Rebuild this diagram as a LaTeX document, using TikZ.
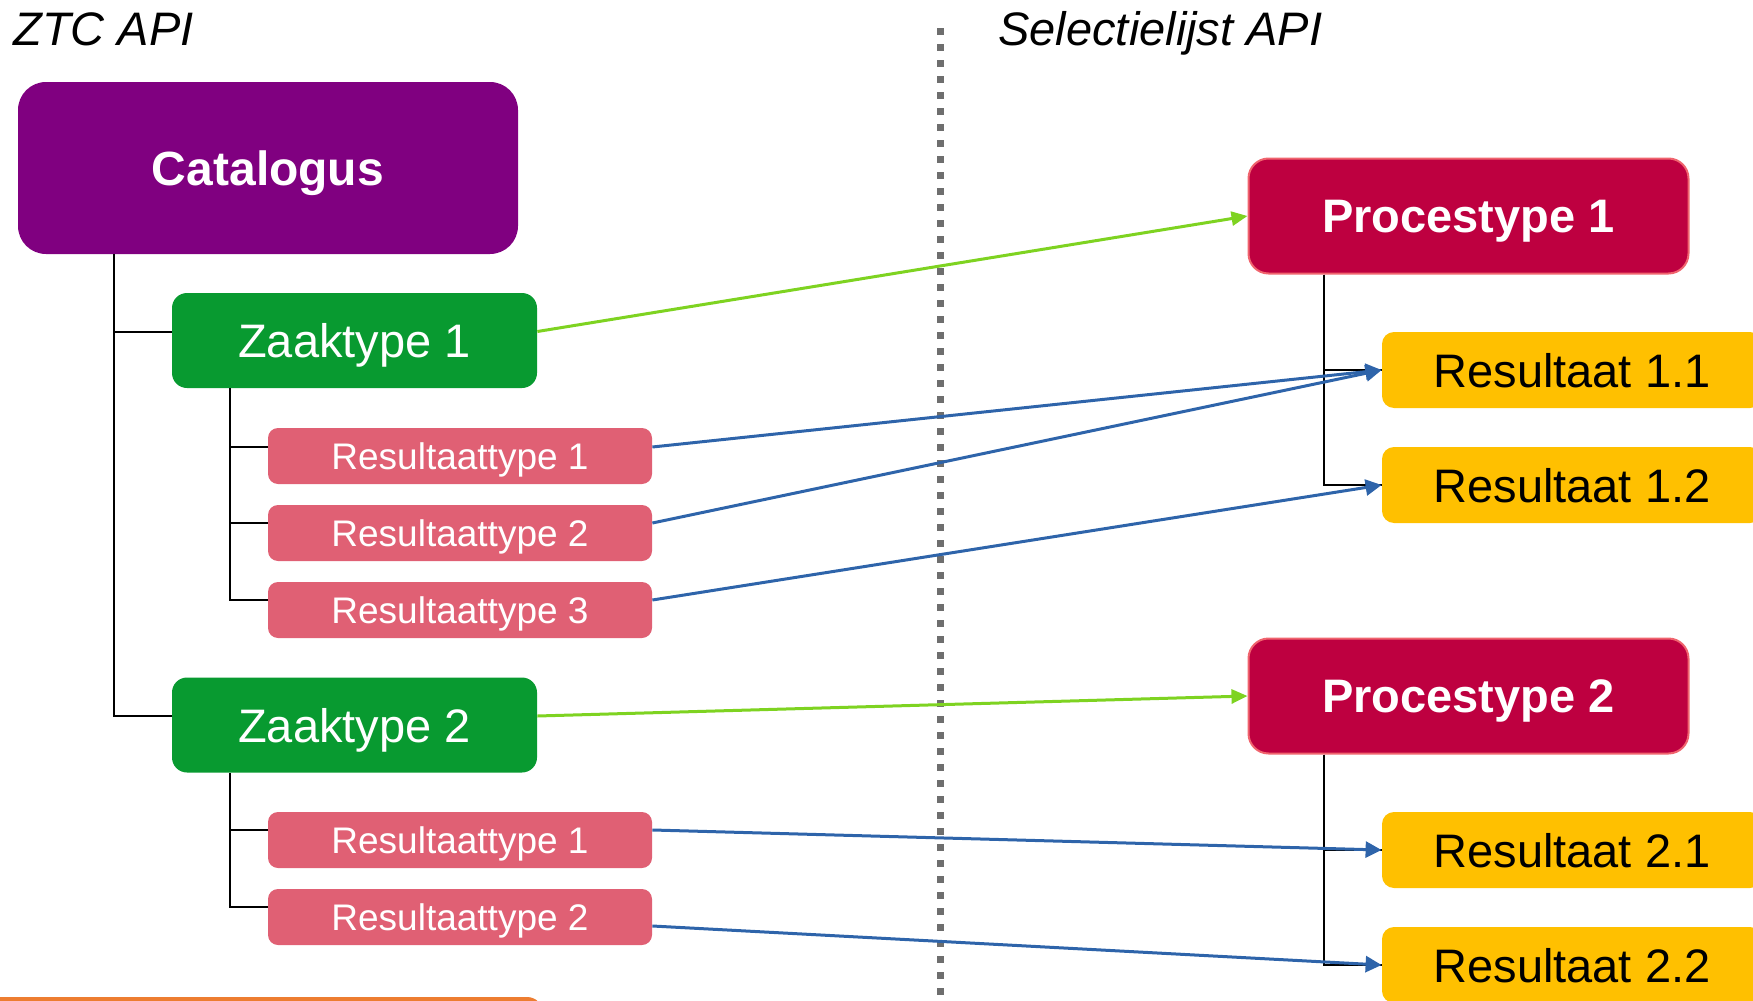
\documentclass[tikz,border=0pt]{standalone}
\usepackage{fontspec}
\setmainfont{Liberation Sans}
\usetikzlibrary{arrows.meta}
\definecolor{catpurple}{RGB}{128,0,128}
\definecolor{zaakgreen}{RGB}{8,154,48}
\definecolor{rtpink}{RGB}{224,96,116}
\definecolor{procred}{RGB}{190,0,64}
\definecolor{procborder}{RGB}{240,100,110}
\definecolor{resgold}{RGB}{255,192,0}
\definecolor{arrowgreen}{RGB}{126,211,33}
\definecolor{arrowblue}{RGB}{46,100,170}
\definecolor{sepgray}{RGB}{110,110,110}
\definecolor{orangebar}{RGB}{237,125,49}
\begin{document}
\begin{tikzpicture}[x=0.5pt,y=-0.5pt,
    box/.style={rectangle,inner sep=0pt,text depth=0pt,text=white,font=\fontsize{23.5}{28}\selectfont},
    catbox/.style={box,fill=catpurple,rounded corners=14pt,minimum width=250pt,minimum height=86pt,font=\fontsize{24}{28}\selectfont\bfseries},
    zaakbox/.style={box,fill=zaakgreen,rounded corners=7.5pt,minimum width=182.5pt,minimum height=47.5pt},
    rtbox/.style={box,fill=rtpink,rounded corners=5pt,minimum width=192pt,minimum height=28pt,font=\fontsize{18.5}{22}\selectfont},
    procbox/.style={box,fill=procred,draw=procborder,line width=1pt,rounded corners=10pt,minimum width=220pt,minimum height=57.5pt,font=\fontsize{23.5}{28}\selectfont\bfseries},
    resbox/.style={box,fill=resgold,text=black,rounded corners=6pt,minimum width=190pt,minimum height=38pt},
    title/.style={anchor=base west,inner sep=0pt,font=\fontsize{23.5}{28}\selectfont\itshape},
    tree/.style={black,line width=1pt},
    zaaklink/.style={arrowgreen,line width=1.5pt,-{Triangle[length=8pt,width=7pt]}},
    reslink/.style={arrowblue,line width=1.5pt,-{Triangle[length=8pt,width=8pt]}}]
    \useasboundingbox (0,0) rectangle (1753,1001);
    \clip (0,0) rectangle (1753,1001);
    \fill[orangebar,rounded corners=8pt] (-20,997) rectangle (543,1060);
    \draw[sepgray,line width=3.5pt,dash pattern=on 3.5pt off 4.5pt] (940,28) -- (940,1001);
    \path node (ztc) at(13,46) [title] {ZTC API}
          node (sel) at(998,46) [title] {Selectielijst API}
          node (cat) at(268,168) [catbox] {Catalogus}
          node (zt1) at(354.5,340.5) [zaakbox] {Zaaktype 1}
          node (rt11) at(460,456) [rtbox] {Resultaattype 1}
          node (rt12) at(460,533) [rtbox] {Resultaattype 2}
          node (rt13) at(460,610) [rtbox] {Resultaattype 3}
          node (zt2) at(354.5,725) [zaakbox] {Zaaktype 2}
          node (rt21) at(460,840) [rtbox] {Resultaattype 1}
          node (rt22) at(460,917) [rtbox] {Resultaattype 2}
          node (pt1) at(1468.5,216) [procbox] {Procestype 1}
          node (r11) at(1572,370) [resbox] {Resultaat 1.1}
          node (r12) at(1572,485) [resbox] {Resultaat 1.2}
          node (pt2) at(1468.5,696) [procbox] {Procestype 2}
          node (r21) at(1572,850) [resbox] {Resultaat 2.1}
          node (r22) at(1572,965) [resbox] {Resultaat 2.2};
    \draw[tree] (cat.south west) ++(96,0) |- ([yshift=4.5pt]zt1.west);
    \draw[tree] (cat.south west) ++(96,0) |- ([yshift=4.5pt]zt2.west);
    \draw[tree] (zt1.south west) ++(58,0) |- ([yshift=4.5pt]rt11.west);
    \draw[tree] (zt1.south west) ++(58,0) |- ([yshift=5pt]rt12.west);
    \draw[tree] (zt1.south west) ++(58,0) |- ([yshift=5pt]rt13.west);
    \draw[tree] (zt2.south west) ++(58,0) |- ([yshift=5pt]rt21.west);
    \draw[tree] (zt2.south west) ++(58,0) |- ([yshift=5pt]rt22.west);
    \draw[tree] (pt1.south west) ++(76,0) |- (r11.west);
    \draw[tree] (pt1.south west) ++(76,0) |- (r12.west);
    \draw[tree] (pt2.south west) ++(76,0) |- (r21.west);
    \draw[tree] (pt2.south west) ++(76,0) |- (r22.west);
    \draw[zaaklink] ([yshift=4.5pt]zt1.east) -- (pt1.west);
    \draw[zaaklink] ([yshift=4.5pt]zt2.east) -- (pt2.west);
    \draw[reslink] ([yshift=4.5pt]rt11.east) -- (r11.west);
    \draw[reslink] ([yshift=5pt]rt12.east) -- (r11.west);
    \draw[reslink] ([yshift=5pt]rt13.east) -- (r12.west);
    \draw[reslink] ([yshift=5pt]rt21.east) -- (r21.west);
    \draw[reslink] ([yshift=-4.5pt]rt22.east) -- (r22.west);
\end{tikzpicture}
\end{document}
